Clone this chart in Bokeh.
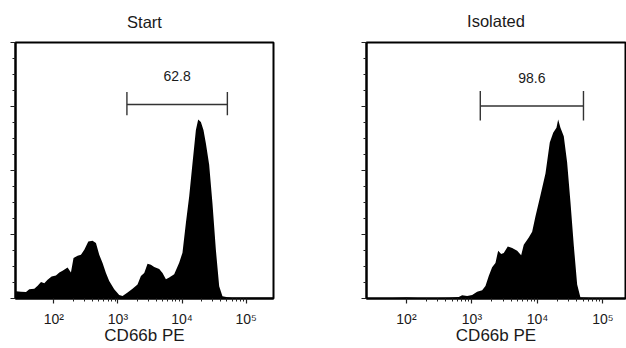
from bokeh.plotting import figure
from bokeh.layouts import row
from bokeh.models import Range1d, FixedTicker, LinearAxis
from bokeh.core.properties import value
from bokeh.embed import file_html
from bokeh.resources import INLINE

# ---------------- data ----------------
titles = ["Start", "Isolated"]
gate_labels = ["62.8", "98.6"]
axis_label = "CD66b PE"
tick_values = [100, 1000, 10000, 100000]
tick_labels = ["10\u00b2", "10\u00b3", "10\u2074", "10\u2075"]

# Start sample: CD66b PE intensity vs. % of max
start_x = [25.8, 30.8, 36.9, 41.5, 49.7, 56.0, 63.2, 71.1, 80.0, 92.4, 108, 122, 137, 164,
           185, 203, 235, 265, 299, 345, 402, 454, 511, 576, 650, 731, 875, 1047, 1180,
           1413, 1688, 2019, 2280, 2570, 2893, 3266, 3675, 4397, 4953, 5596, 6300, 7534,
           9013, 10140, 11460, 12910, 14530, 16410, 17820, 19630, 21540, 23480, 26430,
           29740, 33620, 37870, 42590, 50930, 60000, 265000]
start_y = [2.8, 2.6, 2.5, 3.6, 3.8, 5.0, 6.4, 6.0, 7.3, 8.6, 9.0, 10.2, 10.8, 12.1,
           10.2, 15.8, 16.7, 17.1, 19.0, 22.3, 22.6, 21.7, 17.1, 13.9, 10.0, 6.8, 3.6, 1.4, 1.0,
           2.3, 3.8, 5.5, 8.8, 10.0, 13.6, 13.2, 12.3, 11.5, 10.0, 7.5, 8.2, 9.5,
           14.0, 17.9, 29.5, 39.9, 52.8, 65.8, 69.9, 68.9, 65.8, 60.6, 52.2,
           37.2, 19.0, 4.8, 0.9, 0.5, 0.3, 0.3]

# Isolated sample
iso_x = [24.5, 60, 100, 150, 300, 450, 628, 708, 845, 1007, 1200, 1431, 1607, 1804, 2032,
         2284, 2512, 2790, 3058, 3521, 4111, 4898, 5640, 6180, 7369, 8299, 9311, 11110,
         13250, 15420, 17380, 19500, 20700, 22440, 25220, 28380, 31910, 35810, 40360,
         45290, 64600, 221000]
iso_y = [0.2, 0.2, 0.4, 0.2, 0.2, 0.3, 0.6, 1.3, 1.0, 1.4, 2.6, 3.2, 4.9, 8.8, 12.2,
         13.9, 18.7, 17.4, 17.8, 20.3, 19.7, 18.7, 16.9, 21.0, 23.8, 26.1, 32.0, 40.3,
         48.8, 60.9, 64.7, 66.7, 69.9, 66.7, 63.4, 53.1, 37.6, 20.9, 5.5,
         0.4, 0.2, 0.2]

# gate (marker bar) limits and level, % of max
gate_lo = [1380, 1340]
gate_hi = [50800, 50400]
gate_level = [75.8, 75.2]
gate_cap_lo = [71.6, 69.5]
gate_cap_hi = [80.7, 81.1]
label_y = [86.8, 86.1]

x_ranges = [(10 ** 1.403, 10 ** 5.425), (10 ** 1.39, 10 ** 5.344)]

FONT = "Liberation Sans"
TXT = "#1a1a1a"

minor = [m * d for d in (100, 1000, 10000) for m in range(2, 10)]


def make_panel(i, xs, ys, width, height, bl, br, bt, bb, title_standoff):
    p = figure(width=width, height=height, x_axis_type="log",
               x_range=Range1d(*x_ranges[i]), y_range=Range1d(0, 100),
               output_backend="svg", toolbar_location=None,
               min_border_left=bl, min_border_right=br,
               min_border_top=bt, min_border_bottom=bb)
    p.grid.visible = False
    p.background_fill_color = "white"
    p.border_fill_color = "white"
    p.outline_line_color = "black"
    p.outline_line_width = 2

    xa = p.below[0]      # the bottom (log) axis
    ya = p.left[0]

    # panel title: label of a tick-less axis above the frame
    top = LinearAxis(ticker=FixedTicker(ticks=[]), axis_label=titles[i],
                     axis_line_color=None, major_tick_line_color=None,
                     minor_tick_line_color=None,
                     axis_label_text_font=FONT, axis_label_text_font_size="16.5px",
                     axis_label_text_font_style="normal", axis_label_text_color=TXT,
                     axis_label_standoff=title_standoff)
    p.add_layout(top, "above")

    p.varea(x=xs, y1=0, y2=ys, fill_color="black", fill_alpha=1.0)

    # gate marker
    lo, hi, lev = gate_lo[i], gate_hi[i], gate_level[i]
    p.segment(x0=[lo, lo, hi], y0=[lev, gate_cap_lo[i], gate_cap_lo[i]],
              x1=[hi, lo, hi], y1=[lev, gate_cap_hi[i], gate_cap_hi[i]],
              line_color="#333333", line_width=1.4)
    p.text(x=[(lo * hi) ** 0.5], y=[label_y[i]], text=[gate_labels[i]],
           text_font=value(FONT),
           text_font_size="14px", text_color=TXT,
           text_align="center", text_baseline="middle")

    xa.ticker = FixedTicker(ticks=tick_values, minor_ticks=minor)
    xa.major_label_overrides = {v: l for v, l in zip(tick_values, tick_labels)}
    xa.axis_label = axis_label
    xa.axis_label_text_font = FONT
    xa.axis_label_text_font_size = "17px"
    xa.axis_label_text_font_style = "normal"
    xa.axis_label_text_color = TXT
    xa.axis_label_standoff = -4
    xa.major_label_text_font = FONT
    xa.major_label_text_font_size = "14px"
    xa.major_label_text_color = TXT
    xa.major_label_standoff = 7
    xa.axis_line_width = 2
    xa.axis_line_color = "black"
    xa.major_tick_in = 0
    xa.major_tick_out = 5
    xa.minor_tick_in = 0
    xa.minor_tick_out = 3
    xa.major_tick_line_color = "#222222"
    xa.minor_tick_line_color = "#222222"
    xa.major_tick_line_width = 1.2
    xa.minor_tick_line_width = 1

    ya.ticker = FixedTicker(ticks=[0, 25, 50, 75, 100],
                            minor_ticks=[6.25, 12.5, 18.75, 31.25, 37.5, 43.75,
                                         56.25, 62.5, 68.75, 81.25, 87.5, 93.75])
    ya.major_label_text_font_size = "1px"
    ya.major_label_text_color = None
    ya.major_label_standoff = 0
    ya.axis_line_width = 2
    ya.axis_line_color = "black"
    ya.major_tick_in = 0
    ya.major_tick_out = 5
    ya.minor_tick_in = 0
    ya.minor_tick_out = 3
    ya.major_tick_line_color = "#222222"
    ya.minor_tick_line_color = "#222222"
    ya.major_tick_line_width = 1.2
    ya.minor_tick_line_width = 1
    return p


p1 = make_panel(0, start_x, start_y, 313, 348, 15, 40, 42, 49, 12)
p2 = make_panel(1, iso_x, iso_y, 313, 348, 53, 1, 39, 50, 13)

layout = row(p1, p2)
open("out.html", "w").write(file_html(layout, INLINE))
